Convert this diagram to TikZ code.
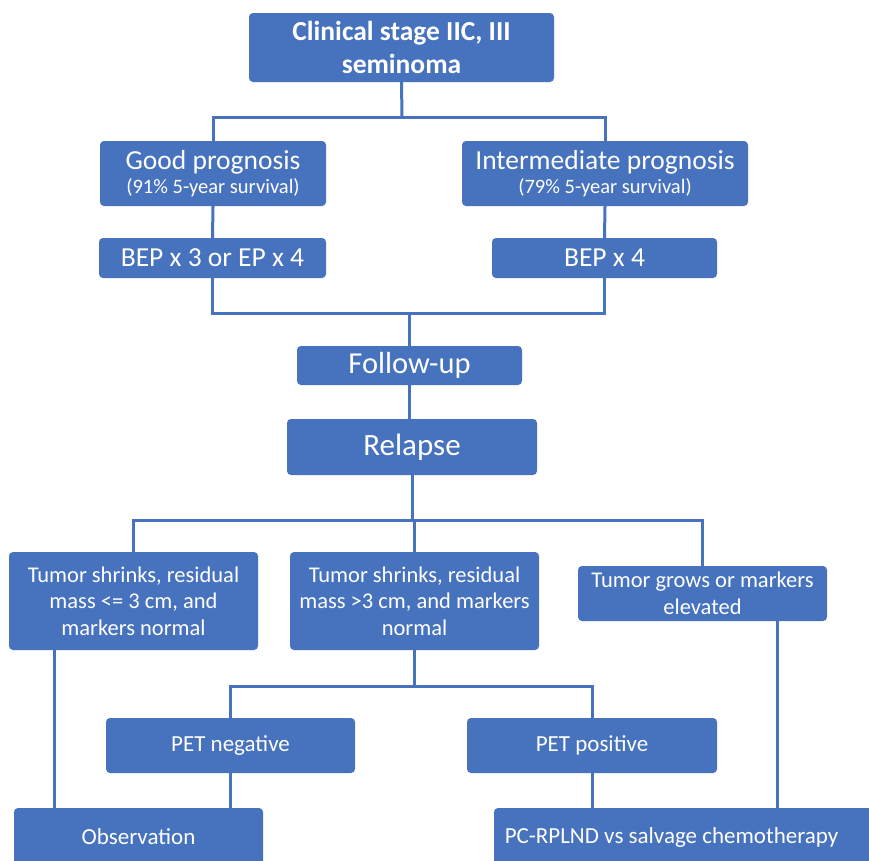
\documentclass[tikz,border=0pt]{standalone}
\usepackage{fontspec}
\setmainfont{Carlito}
\definecolor{boxblue}{RGB}{70,114,190}
\definecolor{lineblue}{RGB}{70,114,190}
\tikzset{
  x=1pt, y=-1pt,
  box/.style={fill=boxblue, rounded corners=4pt, text=white, align=center, inner sep=0pt, anchor=center},
  conn/.style={draw=lineblue, line width=3pt},
}
\newcommand{\fsz}[2]{\fontsize{#1}{#2}\selectfont}
\begin{document}
\begin{tikzpicture}
\useasboundingbox (0,0) rectangle (869,860);
\clip (0,0) rectangle (869,860);
\fill[white] (0,0) rectangle (869,860);

% boxes
\node[box, minimum width=305pt, minimum height=69pt, font=\fsz{27.5}{33}\bfseries] (top) at (401.5,47.5) {Clinical stage IIC, III\\seminoma};
\node[box, minimum width=226pt, minimum height=65pt] (good) at (213,173.5) {{\fsz{27.5}{30}Good prognosis}\\[4pt]{\fsz{20.5}{25}(91\% 5-year survival)}};
\node[box, minimum width=286pt, minimum height=65pt] (inter) at (605,173.5) {{\fsz{27.5}{30}Intermediate prognosis}\\[4pt]{\fsz{20.5}{25}(79\% 5-year survival)}};
\node[box, minimum width=227pt, minimum height=40pt, font=\fsz{27.5}{30}] (bep1) at (212.5,258) {BEP x 3 or EP x 4};
\node[box, minimum width=225pt, minimum height=40pt, font=\fsz{27.5}{30}] (bep2) at (604.5,258) {BEP x 4};
\node[box, minimum width=225pt, minimum height=39pt, font=\fsz{30.5}{33}] (follow) at (409.5,365.5) {Follow-up};
\node[box, minimum width=250pt, minimum height=56pt, font=\fsz{31}{34}] (relapse) at (412,447) {Relapse};
\node[box, minimum width=249pt, minimum height=98pt, font=\fsz{22.5}{26.5}] (t1) at (133.5,601) {Tumor shrinks, residual\\mass <= 3 cm, and\\markers normal};
\node[box, minimum width=249pt, minimum height=98pt, font=\fsz{22.5}{26.5}] (t2) at (414.5,601) {Tumor shrinks, residual\\mass >3 cm, and markers\\normal};
\node[box, minimum width=249pt, minimum height=55pt, font=\fsz{22.5}{26.5}] (t3) at (702.5,593.5) {Tumor grows or markers\\elevated};
\node[box, minimum width=249pt, minimum height=55pt, font=\fsz{23}{26}] (petn) at (230.5,745.5) {PET negative};
\node[box, minimum width=250pt, minimum height=55pt, font=\fsz{23}{26}] (petp) at (592,745.5) {PET positive};
\node[box, minimum width=249pt, minimum height=58pt, font=\fsz{23}{26}] (obs) at (138.5,837) {Observation};
\node[box, minimum width=381pt, minimum height=58pt, font=\fsz{23}{26}] (pc) at (684.5,837) {\hspace*{-26pt}PC-RPLND vs salvage chemotherapy};

% junctions
\coordinate (j1) at (402,117);
\coordinate (j2) at (409.5,313);
\coordinate (j3) at (412,520);
\coordinate (j4) at (414.5,686);
\coordinate (l1) at (54,0);
\coordinate (l2) at (777,0);

% connectors
\begin{scope}[conn]
\draw (top.south) -- (j1);
\draw (good.north) |- (j1) -| (inter.north);
\draw (good.south) -- (bep1.north);
\draw (inter.south) -- (bep2.north);
\draw (bep1.south) |- (j2) -| (bep2.south);
\draw (j2) -- (follow.north);
\draw (follow.south) -- (follow.south |- relapse.north);
\draw (relapse.south) -- (j3);
\draw (t1.north) |- (j3) -| (t3.north);
\draw (t2.north) -- (t2.north |- j3);
\draw (t2.south) -- (j4);
\draw (petn.north) |- (j4) -| (petp.north);
\draw (t1.south -| l1) -- (obs.north -| l1);
\draw (petn.south) -- (petn.south |- obs.north);
\draw (petp.south) -- (petp.south |- pc.north);
\draw (t3.south -| l2) -- (pc.north -| l2);
\end{scope}
\end{tikzpicture}
\end{document}
